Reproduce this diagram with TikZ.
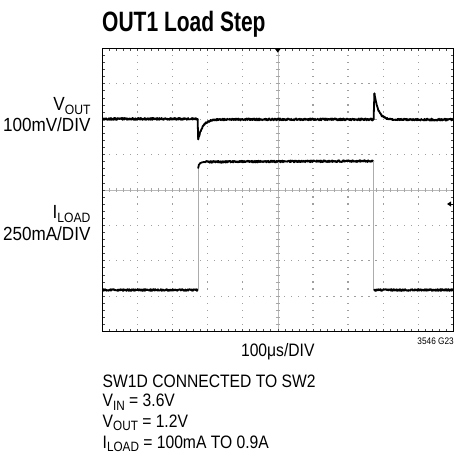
\documentclass[tikz,border=0pt]{standalone}
\usepackage{fontspec}
\setmainfont{Liberation Sans}
\newfontfamily\cf[FakeStretch=0.87]{Liberation Sans}
\newfontfamily\cfl[FakeStretch=0.9]{Liberation Sans}
\newfontfamily\cfb[FakeStretch=0.75]{Liberation Sans Bold}
\newcommand\lsub[1]{\raisebox{-0.2em}{\fontsize{13.5}{13.5}\selectfont #1}}
\begin{document}
\begin{tikzpicture}[x=1pt,y=-1pt,
  lbl/.style={font=\fontsize{19}{20}\cfl, inner sep=0pt, anchor=base east},
  note/.style={font=\fontsize{18}{20}\cf, inner sep=0pt, anchor=base west},
  ttl/.style={font=\fontsize{28}{30}\cfb, inner sep=0pt, anchor=base west},
  trace/.style={line width=1.8pt, line join=round, line cap=round},
  edgeline/.style={gray!65, line width=1pt},
  frame/.style={line width=1.6pt},
  griddot/.style={fill=gray!75},
  ctick/.style={gray!70, line width=0.6pt},
  ftick/.style={black!70, line width=0.6pt}]
\useasboundingbox (0,0) rectangle (456,458);
\pgfmathsetseed{7}
% title
\node[ttl] (title) at (102,31) {OUT1 Load Step};
% grid dots
\foreach \k in {1,2,3,4,6,7,8,9} {
  \foreach \j in {1,...,39} {
    \fill[griddot] ({102.3+35.1*\k-0.6},{48.3+7.08*\j-0.6}) rectangle ++(1.2,1.2);
  }
}
\foreach \m in {1,2,3,5,6,7} {
  \foreach \i in {1,...,49} {
    \fill[griddot] ({102.3+7.02*\i-0.6},{48.3+35.4*\m-0.6}) rectangle ++(1.2,1.2);
  }
}
% centre lines
\draw[gray!55, line width=0.5pt] (277.8,48.3) -- (277.8,331.5);
\draw[gray!55, line width=0.5pt] (102.3,189.9) -- (453.3,189.9);
\foreach \j in {1,...,39} { \draw[ctick] (275.8,{48.3+7.08*\j}) -- (279.8,{48.3+7.08*\j}); }
\foreach \i in {1,...,49} { \draw[ctick] ({102.3+7.02*\i},187.9) -- ({102.3+7.02*\i},191.9); }
% frame ticks
\foreach \i in {1,...,49} {
  \draw[ftick] ({102.3+7.02*\i},48.3) -- ++(0,2.5);
  \draw[ftick] ({102.3+7.02*\i},331.5) -- ++(0,-2.5);
}
\foreach \j in {1,...,39} {
  \draw[ftick] (102.3,{48.3+7.08*\j}) -- ++(2.5,0);
  \draw[ftick] (453.3,{48.3+7.08*\j}) -- ++(-2.5,0);
}
% frame
\draw[frame] (102.3,48.3) rectangle (453.3,331.5);
% markers
\fill (274.6,48.3) -- (281,48.3) -- (277.8,52.6) -- cycle;
\fill (447,204) -- (451.2,201.3) -- (451.2,206.7) -- cycle;
\draw[line width=1pt] (451,204) -- (453.3,204);
% VOUT trace
\draw[trace] plot[domain=103:197.6,samples=280] (\x,{118.9+1.0*rand});
\draw[trace] (197.6,118.9) -- (198.2,139.5);
\draw[trace] plot[domain=198.2:240,samples=140] (\x,{119.4+20*exp(-(\x-198.2)/4.5)+0.8*rand});
\draw[trace] plot[domain=240:373.6,samples=400] (\x,{119.4+1.0*rand});
\draw[trace] (373.6,119.5) -- (374.4,93.5);
\draw[trace] plot[domain=374.4:420,samples=140] (\x,{119.6-26*exp(-(\x-374.4)/4)+0.8*rand});
\draw[trace] plot[domain=420:452.5,samples=100] (\x,{119.6+1.0*rand});
% ILOAD trace
\draw[trace] plot[domain=103:197.6,samples=280] (\x,{290+0.9*rand});
\draw[edgeline] (198.2,290) -- (198.2,166);
\draw[trace] (198.2,168) .. controls (198.6,162.8) and (201,162.2) .. (205,161.9);
\draw[trace] plot[domain=205:373.4,samples=480] (\x,{161.9-0.9*(\x-205)/168+0.9*rand});
\draw[edgeline] (373.8,161) -- (373.8,290);
\draw[trace] plot[domain=374.2:452.5,samples=230] (\x,{290+0.9*rand});
% labels
\node[lbl] (vout) at (90.7,110.5) {V\lsub{OUT}};
\node[lbl] (vdiv) at (90.7,131.5) {100mV/DIV};
\node[lbl] (iload) at (90.7,218.5) {I\lsub{LOAD}};
\node[lbl] (idiv) at (90.7,240.5) {250mA/DIV};
\node[font=\fontsize{18}{20}\cf, inner sep=0pt, anchor=base] (tdiv) at (277.8,356.7) {100μs/DIV};
\node[font=\fontsize{9.5}{10}\cf, inner sep=0pt, anchor=base east] (fig) at (454,344.5) {3546 G23};
\node[note] (n1) at (102.5,387.3) {SW1D CONNECTED TO SW2};
\node[note] (n2) at (102.5,406.7) {V\lsub{IN} = 3.6V};
\node[note] (n3) at (102.5,427) {V\lsub{OUT} = 1.2V};
\node[note] (n4) at (102.5,448) {I\lsub{LOAD} = 100mA TO 0.9A};
\end{tikzpicture}
\end{document}
